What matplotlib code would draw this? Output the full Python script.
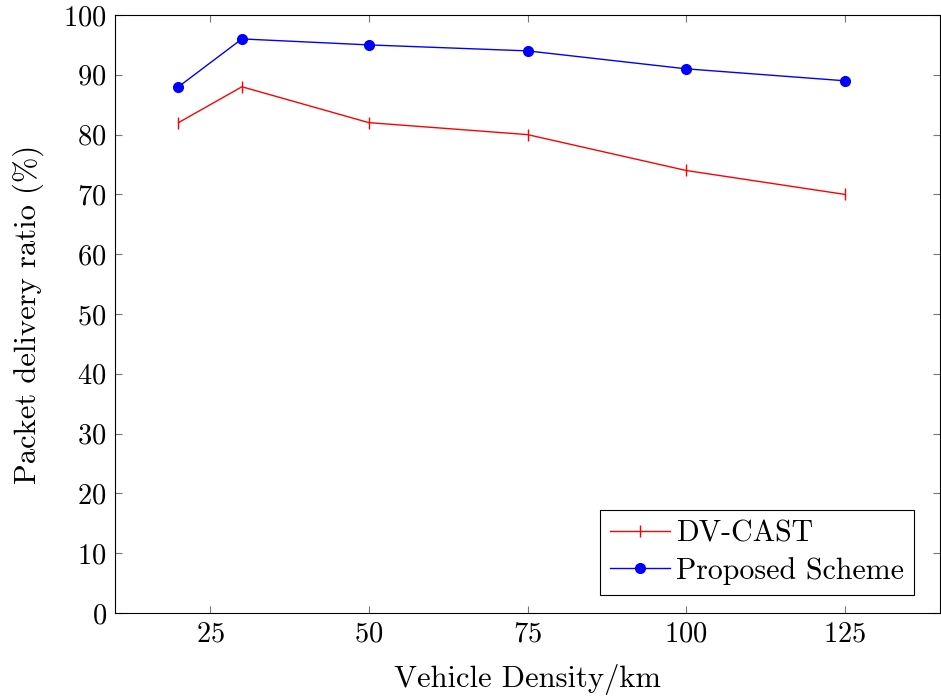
import matplotlib
matplotlib.use('Agg')
import matplotlib.pyplot as plt

density = [20, 30, 50, 75, 100, 125]
dv_cast = [82, 88, 82, 80, 74, 70]
proposed = [88, 96, 95, 94, 91, 89]

plt.rcParams['font.family'] = 'cmr10'
plt.rcParams['mathtext.fontset'] = 'cm'
plt.rcParams['axes.formatter.use_mathtext'] = True

fig = plt.figure(figsize=(9.41, 6.97), dpi=100)
ax = fig.add_axes([115/941, 84/697, 825/941, 598/697])

ax.plot(density, dv_cast, color='red', marker='|', markersize=8, markeredgewidth=1,
        linewidth=1, label='DV-CAST')
ax.plot(density, proposed, color='blue', marker='o', markersize=7, linewidth=1,
        label='Proposed Scheme')

ax.set_xlim(10, 140)
ax.set_ylim(0, 100)
ax.set_xticks([25, 50, 75, 100, 125])
ax.set_yticks(range(0, 101, 10))
ax.tick_params(direction='in', top=True, right=True, labelsize=20.5, length=5,
               color='#777777', pad=6)
for s in ax.spines.values():
    s.set_linewidth(0.8)

ax.set_xlabel('Vehicle Density/km', fontsize=22, labelpad=12)
ax.set_ylabel('Packet delivery ratio (%)', fontsize=22, labelpad=14)

leg = ax.legend(loc='lower right', fontsize=21.5, fancybox=False, edgecolor='black',
                framealpha=1, bbox_to_anchor=(0.969, 0.03), borderaxespad=0,
                handlelength=2.0, handletextpad=0.2, borderpad=0.35, labelspacing=0.3)
leg.get_frame().set_linewidth(0.8)

fig.savefig('out.png', dpi=100)
